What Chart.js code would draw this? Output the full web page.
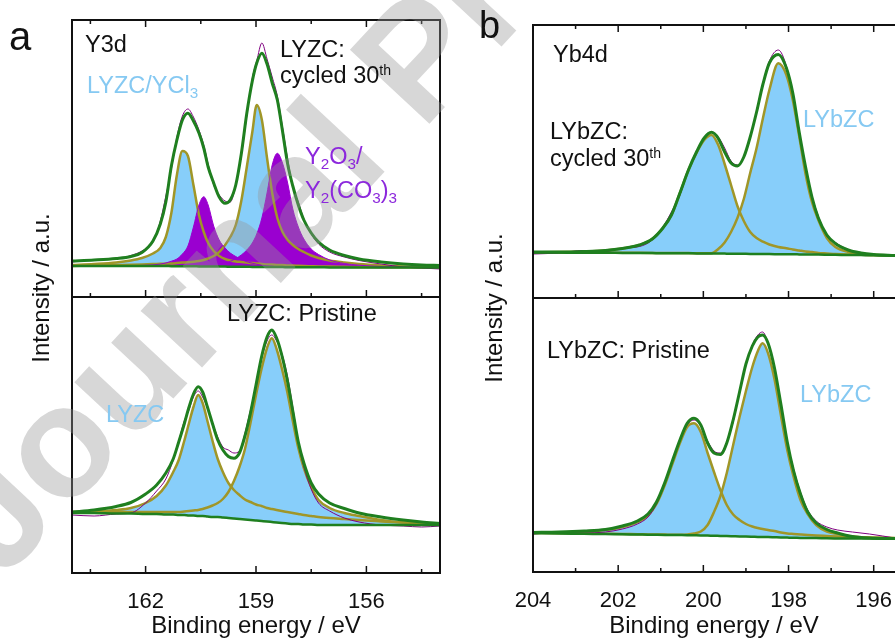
<!DOCTYPE html>
<html>
<head>
<meta charset="utf-8">
<script src="https://cdn.jsdelivr.net/npm/chart.js@4.4.1/dist/chart.umd.min.js"></script>
<style>
  html, body { margin: 0; padding: 0; background: #fff; }
  #fig { position: relative; width: 895px; height: 641px; overflow: hidden;
         font-family: "Liberation Sans", Arial, sans-serif; color: #111; }
  canvas { position: absolute; }
  .t { position: absolute; white-space: nowrap; font-size: 23.5px; line-height: 1; }
  .t sup { font-size: 0.6em; position: relative; top: -0.55em; vertical-align: baseline; }
  .t sub { font-size: 0.65em; position: relative; top: 0.35em; vertical-align: baseline; }
  .blue { color: #86c9f2; }
  .vio { color: #8c28dc; }
  .ylab { position: absolute; white-space: nowrap; font-size: 24px; line-height: 1;
          transform: translate(-50%, -50%) rotate(-90deg); }
  .wm { position: absolute; left: 3px; top: 447px; font: bold 158px "Liberation Sans", Arial, sans-serif;
        line-height: 1; color: rgba(150, 150, 150, 0.38); white-space: nowrap;
        transform-origin: 0 134px; transform: rotate(-47deg); pointer-events: none; }
</style>
</head>
<body>
<div id="fig">
  <canvas id="aTop" width="388" height="297" style="left:62px;top:10px"></canvas>
  <canvas id="aBot" width="418" height="354" style="left:32px;top:287px"></canvas>
  <canvas id="bTop" width="382" height="293" style="left:523px;top:15px"></canvas>
  <canvas id="bBot" width="402" height="353" style="left:503px;top:288px"></canvas>

  <div class="wm">Journal Pre-proof</div>

  <div class="t" style="left:9px;top:16px;font-size:40px">a</div>
  <div class="t" style="left:479px;top:6px;font-size:38px">b</div>

  <div class="t" style="left:85px;top:33px">Y3d</div>
  <div class="t" style="left:280px;top:38px">LYZC:</div>
  <div class="t" style="left:280px;top:64px">cycled 30<sup>th</sup></div>
  <div class="t blue" style="left:87px;top:74px">LYZC/YCl<sub>3</sub></div>
  <div class="t vio" style="left:305px;top:145px">Y<sub>2</sub>O<sub>3</sub>/</div>
  <div class="t vio" style="left:305px;top:179px">Y<sub>2</sub>(CO<sub>3</sub>)<sub>3</sub></div>
  <div class="t" style="left:227px;top:302px">LYZC: Pristine</div>
  <div class="t blue" style="left:106px;top:403px">LYZC</div>

  <div class="t" style="left:553px;top:43px">Yb4d</div>
  <div class="t" style="left:550px;top:120px">LYbZC:</div>
  <div class="t" style="left:550px;top:147px">cycled 30<sup>th</sup></div>
  <div class="t blue" style="left:803px;top:108px">LYbZC</div>
  <div class="t" style="left:547px;top:339px">LYbZC: Pristine</div>
  <div class="t blue" style="left:800px;top:383px">LYbZC</div>

  <div class="ylab" style="left:41px;top:288px">Intensity / a.u.</div>
  <div class="ylab" style="left:494px;top:308px">Intensity / a.u.</div>
</div>

<script>
// ---------- panel a, Y3d, cycled 30th (binding energy in eV, intensity in a.u.) ----------
const aTopE = [164.0, 163.4, 162.8, 162.4, 162.1, 161.8, 161.6, 161.45, 161.3, 161.15, 161.0, 160.85, 160.7, 160.55, 160.42,
  160.3, 160.15, 160.0, 159.84, 159.7, 159.55, 159.4, 159.25, 159.1, 158.98, 158.84, 158.7, 158.56, 158.42, 158.28,
  158.14, 158.0, 157.85, 157.7, 157.5, 157.3, 157.0, 156.6, 156.2, 155.6, 155.0, 154.5, 154.0];
const aTopRaw = [35, 37.5, 38, 41.5, 46, 55, 76, 101, 128, 160, 181, 188, 180, 167, 152,
  133, 112, 102, 96, 95, 112, 141, 181, 219, 236, 254, 238, 220, 201, 170,
  138, 110, 95, 78, 63, 53, 45, 40, 36.5, 33, 30, 29, 28];
const aTopEnv = [36, 37, 38.5, 40.5, 44.5, 56, 73, 95, 131, 157, 177, 183.7, 176, 164, 149,
  130, 114, 100, 93.7, 97, 112, 143, 183.7, 216, 234, 243.7, 233, 214, 197, 166,
  133, 111, 92, 77, 64, 55, 47, 41.5, 38, 35, 33, 32, 31.5];
const aTopBg = [31, 31, 31, 31, 31, 31, 31, 31, 30.8, 30.8, 30.8, 30.7, 30.7, 30.6, 30.6,
  30.5, 30.5, 30.4, 30.4, 30.3, 30.3, 30.2, 30.2, 30.1, 30.1, 30, 30, 30, 29.9, 29.9,
  29.8, 29.8, 29.8, 29.7, 29.7, 29.7, 29.6, 29.6, 29.5, 29.5, 29.5, 29.5, 29.5];
const aTopLyzc1 = [32, 33, 34.5, 36.5, 39, 43.5, 49, 60, 84, 122, 146, 141, 112, 82, 65,
  54, 46, 41, 38, 36.5, 35.5, 35, 34.5, 34, 33.5, 33, 32.5, 32.5, 32, 32,
  31.5, 31.5, 31.2, 31, 30.8, 30.6, 30.4, 30.2, 30, 29.8, 29.7, 29.6, 29.6];
const aTopLyzc2 = [31, 31.5, 32, 32.3, 32.6, 33, 33.2, 33.4, 33.6, 34, 34.4, 34.8, 35.3, 36, 37,
  38.5, 41, 45, 52, 60, 72, 96, 130, 165, 192, 177, 139, 104, 79, 65,
  57, 52, 48, 45, 41.5, 39, 36.5, 34.5, 33, 31.5, 30.5, 30, 29.8];
const aTopOx1 = [31, 31, 31.1, 31.3, 31.6, 32.1, 32.9, 34, 35.8, 38, 43, 51, 70, 92, 100.3,
  92, 71, 57, 49, 44, 40.5, 37.5, 35.3, 33.8, 32.7, 31.8, 31.1, 30.7, 30.4, 30.2,
  30, 29.9, 29.8, 29.7, 29.7, 29.7, 29.6, 29.6, 29.5, 29.5, 29.5, 29.5, 29.5];
const aTopOx2 = [31, 31, 31, 31, 31, 31, 31, 31, 30.8, 30.8, 30.8, 30.8, 30.8, 30.8, 30.9,
  31, 31.4, 32.2, 33.6, 35.6, 38.5, 42, 47, 54, 63, 79, 104, 132, 143.7, 134,
  114, 88, 70, 58, 48, 42.5, 37, 33.5, 31.8, 30.5, 29.9, 29.7, 29.6];

// ---------- panel a, Y3d, pristine ----------
const aBotE = [164.0, 163.4, 162.8, 162.4, 162.0, 161.7, 161.45, 161.25, 161.1, 160.95, 160.82, 160.7, 160.57, 160.45,
  160.32, 160.18, 160.04, 159.9, 159.75, 159.6, 159.45, 159.3, 159.15, 159.0, 158.85, 158.7, 158.57, 158.44,
  158.3, 158.15, 158.0, 157.85, 157.7, 157.5, 157.3, 157.0, 156.6, 156.2, 155.6, 155.0, 154.5, 154.0];
const aBotRaw = [58, 57, 59, 60, 70, 82, 94, 113, 132, 152, 163, 176, 182, 176,
  165, 150, 136, 126, 123, 120, 122, 140, 163, 185, 214, 232, 238, 232,
  220, 198, 166, 130, 106, 84, 70, 62, 55, 51, 48, 47, 46, 47];
const aBotEnv = [61, 63, 66.5, 70.5, 79, 88, 100, 114, 131, 149, 166, 179, 186.3, 181,
  166, 149, 133, 123, 116.5, 114.7, 120, 137, 160, 188, 216, 236, 243, 235,
  218, 193, 162, 131, 110, 90, 79, 70, 64.5, 60, 56, 53, 51, 49.5];
const aBotBg = [60, 60, 59.5, 59.5, 59, 59, 58.5, 58.5, 58, 58, 57.5, 57.5, 57, 57,
  56.5, 56, 56, 55.5, 55, 54.5, 54, 53.5, 53, 52.5, 52, 51.5, 51, 50.5,
  50, 49.5, 49, 49, 48.5, 48.5, 48, 48, 48, 48, 48, 48, 48, 48];
const aBotLyzc1 = [60.5, 61.5, 63, 65, 70, 77, 87.5, 101, 113, 132, 150, 166, 178, 170,
  152, 132, 114, 101, 90, 83, 78, 73.5, 71, 68.5, 67, 65, 64, 63,
  62, 61, 60, 59, 58, 57, 56, 55, 54, 53, 51.5, 50.5, 50, 49.5];
const aBotLyzc2 = [61, 61, 61, 61, 61, 61, 61, 61, 61, 61.5, 62, 62.5, 63, 64,
  65.5, 67.5, 70, 74, 81, 92, 106, 124, 150, 178, 204, 225, 234.7, 224,
  205, 181, 152, 125, 105, 86, 73, 65, 60, 57, 53, 50.5, 49.5, 49];

// ---------- panel b, Yb4d, cycled 30th ----------
const bTopE = [204.0, 203.4, 202.8, 202.3, 201.9, 201.5, 201.2, 200.95, 200.75, 200.55, 200.35, 200.15, 199.98, 199.81,
  199.65, 199.5, 199.35, 199.2, 199.05, 198.9, 198.75, 198.6, 198.45, 198.24, 198.05, 197.9, 197.75, 197.6,
  197.45, 197.3, 197.1, 196.9, 196.6, 196.3, 196.0, 195.5];
const bTopRaw = [44, 45, 47.5, 46.5, 50, 51.5, 58, 71, 86, 103, 128, 146, 161, 166,
  161, 150, 137, 133, 140, 160, 187, 215, 237, 248, 232, 204, 167, 130,
  102, 82, 62, 55.5, 48.5, 45.5, 43, 42.5];
const bTopEnv = [46, 46, 46.5, 47.5, 49.5, 53, 59, 70, 83, 105, 128, 147, 160, 165.7,
  159.7, 146, 135, 132, 141, 161, 186, 214, 235, 243.5, 230, 205, 166, 131,
  101, 80, 63, 54.5, 48, 45, 43.5, 42.5];
const bTopBg = [45.5, 45.4, 45.3, 45.2, 45.1, 45, 44.9, 44.8, 44.8, 44.7, 44.7, 44.6, 44.6, 44.5,
  44.5, 44.4, 44.3, 44.3, 44.2, 44.1, 44.1, 44, 43.9, 43.8, 43.7, 43.7, 43.6, 43.5,
  43.5, 43.4, 43.3, 43.2, 43, 42.9, 42.8, 42.5];
const bTopLybzc1 = [45.8, 46, 46.5, 47.5, 49.5, 53, 59, 70, 83, 105, 128, 146, 158, 163,
  153, 134, 113, 92, 77, 66, 60, 56.3, 53.5, 51, 49.7, 48.5, 47.5, 46.5,
  46, 45, 44.5, 44, 43.5, 43.2, 43, 42.7];
const bTopLybzc2 = [45.7, 45.6, 45.5, 45.4, 45.3, 45.2, 45.1, 45, 45, 44.9, 44.9, 44.8, 44.8, 44.8,
  49, 55.5, 66, 80, 99, 125, 150, 180, 208, 234.7, 223, 198, 162, 124,
  96, 78, 60, 51, 46, 43.6, 43, 42.6];

// ---------- panel b, Yb4d, pristine ----------
const bBotE = [204.0, 203.4, 202.8, 202.3, 201.9, 201.55, 201.3, 201.1, 200.9, 200.72, 200.55, 200.38, 200.22, 200.06,
  199.9, 199.75, 199.6, 199.45, 199.3, 199.15, 199.0, 198.85, 198.72, 198.61, 198.48, 198.33, 198.18, 198.03,
  197.88, 197.72, 197.55, 197.35, 197.1, 196.85, 196.5, 196.1, 195.5];
const bBotRaw = [38, 39.5, 39, 40, 43, 48, 55, 68, 89, 112, 131, 147, 152, 146,
  131, 121, 119, 130, 150, 181, 207, 227, 237, 240, 229, 205, 167, 129,
  103, 80, 62, 51, 45, 42, 40, 38, 34];
const bBotEnv = [39.5, 40, 41, 42.5, 46, 51, 58, 70, 90, 112, 132, 148.7, 153.7, 147,
  129, 119, 117.5, 129, 152, 180, 208, 226, 235, 237, 228.7, 204, 168, 130,
  101, 78, 60, 49, 42.5, 39, 35.5, 34, 33.5];
const bBotBg = [38.7, 38.5, 38.2, 38, 37.7, 37.5, 37.3, 37.2, 37.1, 37, 36.9, 36.8, 36.7, 36.6,
  36.4, 36.3, 36.1, 36, 35.8, 35.6, 35.5, 35.3, 35.1, 35, 34.9, 34.7, 34.5, 34.4,
  34.3, 34.1, 34, 33.9, 33.7, 33.6, 33.5, 33.4, 33.3];
const bBotLybzc1 = [39, 39.5, 40.5, 42, 45, 50, 56.5, 68, 87.5, 109, 129, 145, 148.7, 140,
  119, 100, 82, 67, 57.5, 52, 48, 45.5, 44, 43, 42, 41, 39.5, 38.5,
  38, 37.5, 37, 36.5, 36, 35.5, 35, 34.5, 34];
const bBotLybzc2 = [39, 38.8, 38.5, 38.3, 38, 37.8, 37.6, 37.5, 37.4, 37.3, 37.3, 37.5, 38.5, 40.5,
  47, 60, 76, 99, 127, 155, 181, 205, 221, 228.7, 218.7, 193, 157, 122,
  95, 72, 58, 47, 40.5, 38, 35.5, 34.3, 33.8];

// ---------- axes ----------
const aTicks = [154.5, 156, 157.5, 159, 160.5, 162, 163.5];
const aMajor = [156, 159, 162];
const bTicks = [196, 197, 198, 199, 200, 201, 202, 203, 204];
const bMajor = [196, 198, 200, 202, 204];

const FONT = '"Liberation Sans", Arial, sans-serif';
const INK = '#111';
const GREEN = '#1f7f1f';
const OLIVE = '#a09628';
const BLUE = '#87cefa';
const PURPLE = '#9a00d0';
const RAW = '#800080';

function pts(xs, ys) {
  return xs.map((x, i) => ({ x: x, y: ys[i] }));
}

function line(data, color, width, extra) {
  return Object.assign({
    data: data,
    borderColor: color,
    borderWidth: width,
    pointRadius: 0,
    fill: false,
    cubicInterpolationMode: 'monotone'
  }, extra || {});
}

// box + inward tick marks, drawn from the x scale
function framePlugin(cfg) {
  return {
    id: 'frame',
    afterDraw(chart) {
      const ctx = chart.ctx;
      const a = chart.chartArea;
      const x = chart.scales.x;
      ctx.save();
      ctx.strokeStyle = INK;
      ctx.lineWidth = 2;
      ctx.lineCap = 'square';
      ctx.beginPath();
      ctx.moveTo(a.left, a.top);
      ctx.lineTo(a.right, a.top);
      ctx.moveTo(a.left, a.top);
      ctx.lineTo(a.left, a.bottom);
      ctx.lineTo(a.right, a.bottom);
      if (cfg.right) {
        ctx.moveTo(a.right, a.top);
        ctx.lineTo(a.right, a.bottom);
      }
      ctx.stroke();
      ctx.lineWidth = 1.5;
      ctx.lineCap = 'butt';
      ctx.beginPath();
      cfg.ticks.forEach(v => {
        const px = x.getPixelForValue(v);
        const len = cfg.major.includes(v) ? 7 : 4;
        if (cfg.tickTop) { ctx.moveTo(px, a.top); ctx.lineTo(px, a.top + len); }
        if (cfg.tickBottom) { ctx.moveTo(px, a.bottom); ctx.lineTo(px, a.bottom - len); }
      });
      ctx.stroke();
      ctx.restore();
    }
  };
}

function makeChart(id, cfg) {
  return new Chart(document.getElementById(id), {
    type: 'line',
    data: { datasets: cfg.datasets },
    options: {
      responsive: false,
      animation: false,
      devicePixelRatio: 1,
      layout: { padding: cfg.padding },
      plugins: {
        legend: { display: false },
        tooltip: { enabled: false },
        filler: { drawTime: 'beforeDatasetsDraw' }
      },
      scales: {
        x: {
          type: 'linear',
          reverse: true,
          min: cfg.xMin,
          max: cfg.xMax,
          display: cfg.axis,
          grid: { display: false },
          border: { display: false },
          afterBuildTicks: s => { s.ticks = cfg.ticks.map(v => ({ value: v })); },
          afterFit: s => { if (cfg.axis) s.height = cfg.axisH; },
          ticks: {
            autoSkip: false,
            maxRotation: 0,
            padding: 8,
            color: INK,
            font: { size: 22, family: FONT },
            callback: v => cfg.major.includes(v) ? String(v) : ''
          },
          title: {
            display: cfg.axis,
            text: 'Binding energy / eV',
            color: INK,
            font: { size: 24, family: FONT },
            padding: { top: 0, bottom: 0 }
          }
        },
        y: { display: false, min: 0, max: cfg.yMax }
      }
    },
    plugins: [framePlugin(cfg)]
  });
}

// lower dataset index is painted later, so the purple oxide peaks sit above the blue ones
makeChart('aTop', {
  xMin: 154, xMax: 164, yMax: 277, axis: false,
  padding: { left: 10, right: 10, top: 10, bottom: 10 },
  ticks: aTicks, major: aMajor, tickTop: true, tickBottom: true, right: true,
  datasets: [
    line(pts(aTopE, aTopEnv), GREEN, 3),
    line(pts(aTopE, aTopBg), GREEN, 2.5),
    line(pts(aTopE, aTopRaw), RAW, 1),
    line(pts(aTopE, aTopOx1), PURPLE, 1, { fill: 1, backgroundColor: PURPLE }),
    line(pts(aTopE, aTopOx2), PURPLE, 1, { fill: 1, backgroundColor: PURPLE }),
    line(pts(aTopE, aTopLyzc1), OLIVE, 2.5, { fill: 1, backgroundColor: BLUE }),
    line(pts(aTopE, aTopLyzc2), OLIVE, 2.5, { fill: 1, backgroundColor: BLUE })
  ]
});

makeChart('aBot', {
  xMin: 154, xMax: 164, yMax: 276, axis: true, axisH: 68,
  padding: { left: 40, right: 10, top: 10, bottom: 0 },
  ticks: aTicks, major: aMajor, tickTop: false, tickBottom: true, right: true,
  datasets: [
    line(pts(aBotE, aBotEnv), GREEN, 3),
    line(pts(aBotE, aBotBg), GREEN, 2.5),
    line(pts(aBotE, aBotRaw), RAW, 1),
    line(pts(aBotE, aBotLyzc1), OLIVE, 2.5, { fill: 1, backgroundColor: BLUE }),
    line(pts(aBotE, aBotLyzc2), OLIVE, 2.5, { fill: 1, backgroundColor: BLUE })
  ]
});

makeChart('bTop', {
  xMin: 195.5, xMax: 204, yMax: 273, axis: false,
  padding: { left: 10, right: 10, top: 10, bottom: 10 },
  ticks: bTicks, major: bMajor, tickTop: true, tickBottom: true, right: false,
  datasets: [
    line(pts(bTopE, bTopEnv), GREEN, 3),
    line(pts(bTopE, bTopBg), GREEN, 2.5),
    line(pts(bTopE, bTopRaw), RAW, 1),
    line(pts(bTopE, bTopLybzc1), OLIVE, 2.5, { fill: 1, backgroundColor: BLUE }),
    line(pts(bTopE, bTopLybzc2), OLIVE, 2.5, { fill: 1, backgroundColor: BLUE })
  ]
});

makeChart('bBot', {
  xMin: 195.5, xMax: 204, yMax: 274, axis: true, axisH: 69,
  padding: { left: 30, right: 10, top: 10, bottom: 0 },
  ticks: bTicks, major: bMajor, tickTop: false, tickBottom: true, right: false,
  datasets: [
    line(pts(bBotE, bBotEnv), GREEN, 3),
    line(pts(bBotE, bBotBg), GREEN, 2.5),
    line(pts(bBotE, bBotRaw), RAW, 1),
    line(pts(bBotE, bBotLybzc1), OLIVE, 2.5, { fill: 1, backgroundColor: BLUE }),
    line(pts(bBotE, bBotLybzc2), OLIVE, 2.5, { fill: 1, backgroundColor: BLUE })
  ]
});
</script>
</body>
</html>
